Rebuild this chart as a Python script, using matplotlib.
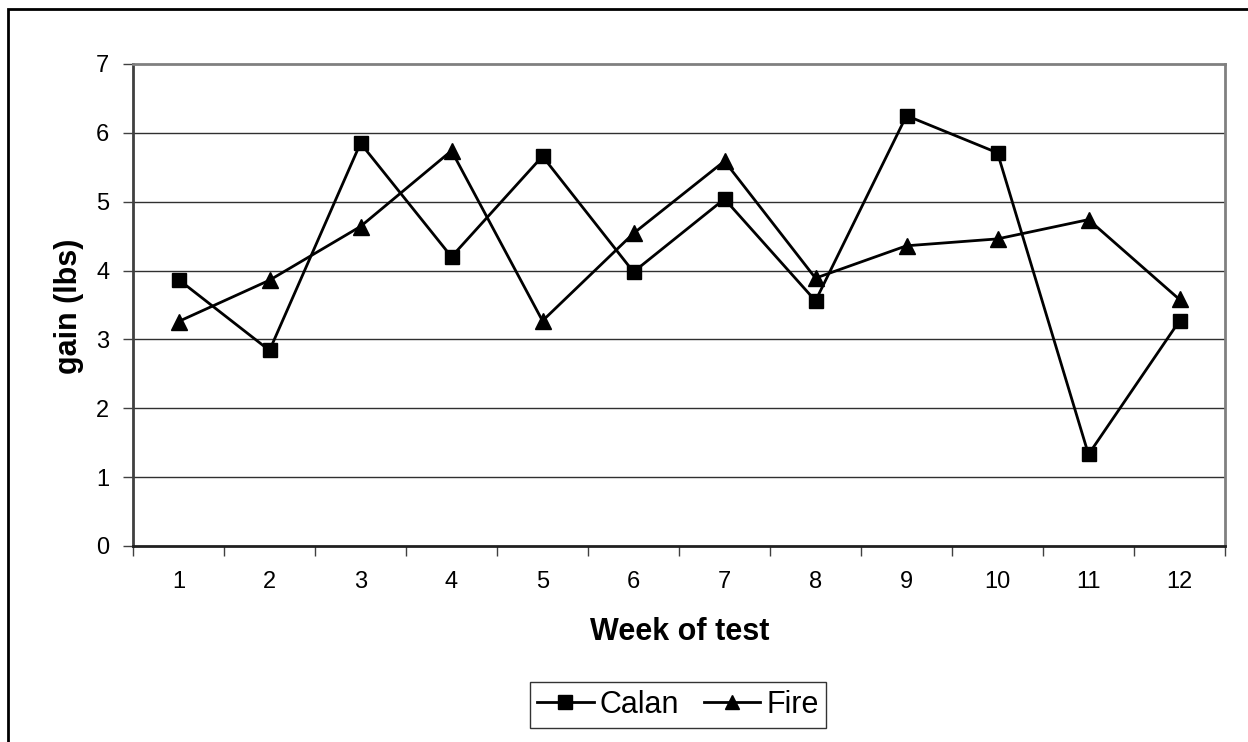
import matplotlib
matplotlib.use("Agg")
import matplotlib.pyplot as plt
from matplotlib.patches import Rectangle

weeks = [str(i) for i in range(1, 13)]
calan = [3.87, 2.84, 5.85, 4.20, 5.66, 3.98, 5.04, 3.56, 6.25, 5.71, 1.33, 3.27]
fire = [3.26, 3.86, 4.64, 5.74, 3.27, 4.54, 5.59, 3.89, 4.36, 4.46, 4.74, 3.58]
yticks = list(range(0, 8))

plt.rcParams['font.family'] = ['Liberation Sans', 'DejaVu Sans']

W, H = 1248, 742
fig = plt.figure(figsize=(W / 100, H / 100), dpi=100)
fig.patch.set_facecolor('white')

# outer chart border (cut off at right and bottom)
fig.patches.append(Rectangle((8 / W, -0.1), 1.2, (H - 9) / H + 0.1, transform=fig.transFigure,
                             fill=False, edgecolor='black', linewidth=2, zorder=0))

left, right, top, bottom = 133, 1225, 64, 546
ax = fig.add_axes([left / W, 1 - bottom / H, (right - left) / W, (bottom - top) / H])

x = list(range(len(weeks)))
ax.plot(x, calan, color='black', linewidth=2, marker='s', markersize=10.5,
        markerfacecolor='black', markeredgecolor='black', label='Calan', zorder=3, clip_on=False)
ax.plot(x, fire, color='black', linewidth=2, marker='^', markersize=11.5,
        markerfacecolor='black', markeredgecolor='black', label='Fire', zorder=3, clip_on=False)

ax.set_xlim(-0.5, len(weeks) - 0.5)
ax.set_ylim(0, 7)
ax.set_yticks(yticks)
ax.set_yticklabels([str(v) for v in yticks], fontsize=17)
ax.set_xticks(x)
ax.set_xticklabels(weeks, fontsize=17)
ax.set_xticks([i - 0.5 for i in range(len(weeks) + 1)], minor=True)
ax.tick_params(axis='x', which='major', length=0, pad=18)
ax.tick_params(axis='x', which='minor', length=7, width=1, color='#404040', direction='out')
ax.tick_params(axis='y', which='major', length=7, width=1, color='#404040', direction='out', pad=10)

for v in yticks[1:-1]:
    ax.axhline(v, color='#303030', linewidth=1, zorder=1)

ax.spines['top'].set_color('#808080')
ax.spines['right'].set_color('#808080')
ax.spines['top'].set_linewidth(2)
ax.spines['right'].set_linewidth(2)
ax.spines['left'].set_color('#404040')
ax.spines['left'].set_linewidth(2)
ax.spines['bottom'].set_color('#202020')
ax.spines['bottom'].set_linewidth(2)

fig.text(680 / W, 1 - 632 / H, 'Week of test', fontsize=22, fontweight='bold', ha='center', va='center')
fig.text(69 / W, 1 - 306 / H, 'gain (lbs)', fontsize=22, fontweight='bold', ha='center', va='center',
         rotation=90)

leg = fig.legend(loc='center', bbox_to_anchor=(678 / W, 1 - 705 / H), ncol=2, fontsize=22,
                 frameon=True, fancybox=False, edgecolor='black', handlelength=1.85,
                 columnspacing=0.8, handletextpad=0.2, borderpad=0.25, markerscale=0.9,
                 borderaxespad=0)
leg.get_frame().set_linewidth(1)

fig.savefig('out.png', dpi=100, facecolor='white')
